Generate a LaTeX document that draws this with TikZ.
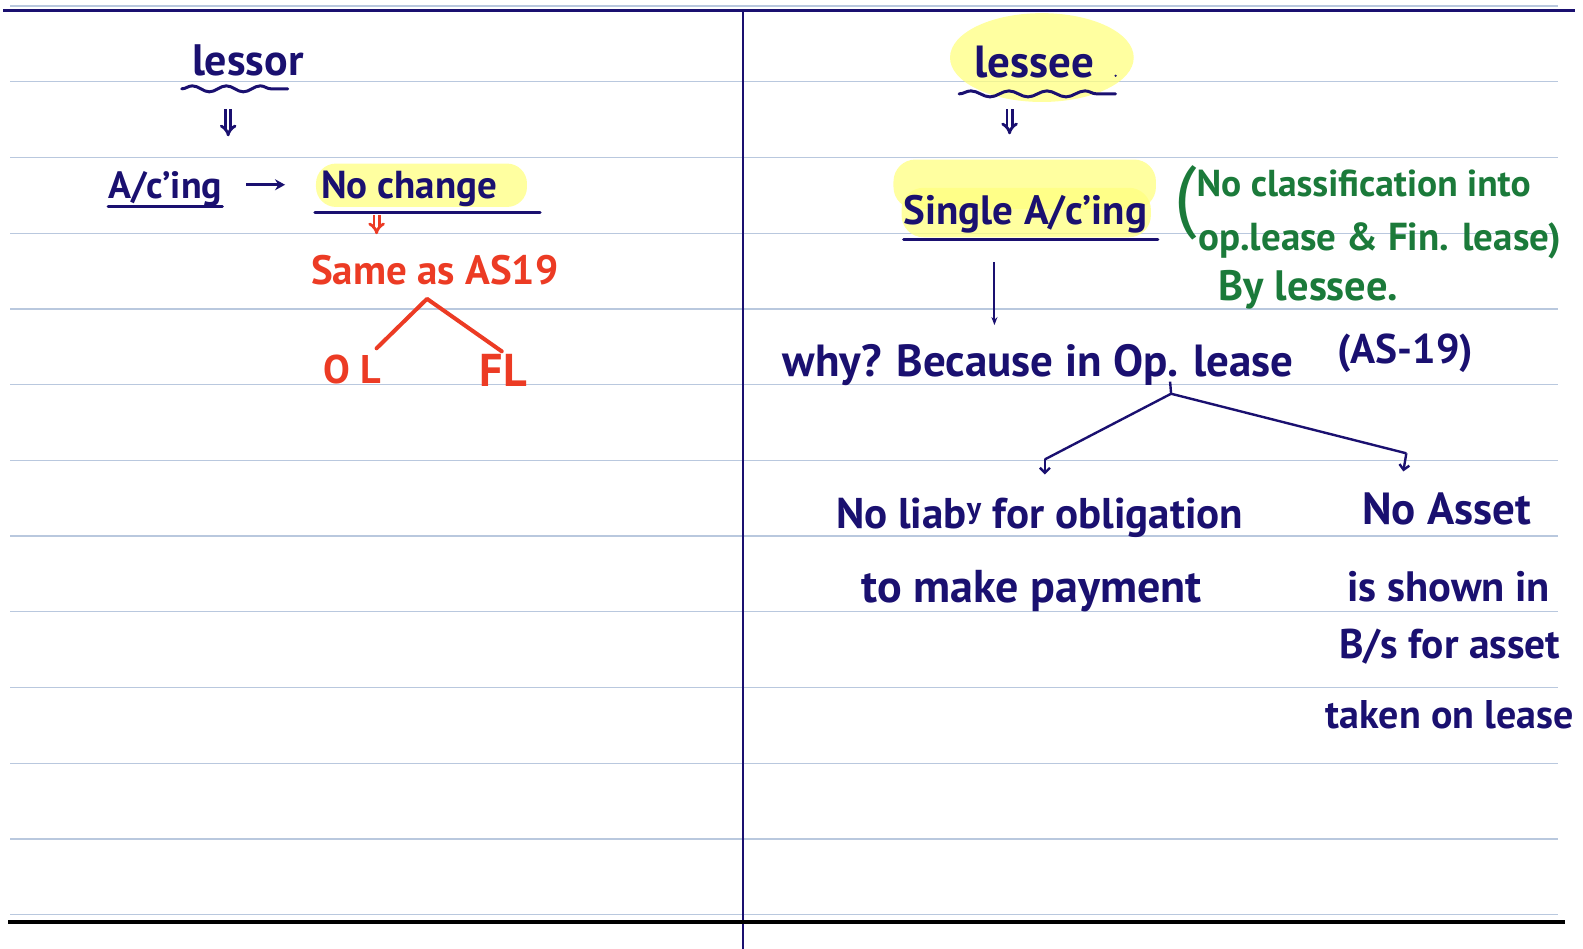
\documentclass[tikz,border=0pt]{standalone}
\usepackage{fontspec}
\setmainfont{PT Sans}
\usepackage{xcolor}
\usetikzlibrary{arrows.meta, positioning, calc, decorations.pathmorphing}
\definecolor{NoteInk}{HTML}{1A1070}
\definecolor{NoteRed}{HTML}{EC3B24}
\definecolor{NoteGreen}{HTML}{1B7A3A}
\definecolor{NoteHighlight}{HTML}{FFFF80}
\definecolor{NoteRule}{HTML}{B9C8DE}
\definecolor{NoteBlack}{HTML}{000000}
\newcommand{\handsize}[1]{\bfseries\fontsize{#1}{#1}\selectfont}
\tikzset{
    hand/.style={
        text=#1,
        font=\handsize{40},
        inner sep=0pt,
        anchor=base west
    },
    hand/.default=NoteInk,
    redhand/.style={
        hand=NoteRed,
        font=\handsize{41}
    },
    greenhand/.style={
        hand=NoteGreen,
        font=\handsize{37}
    },
    underline/.style={
        draw=NoteInk,
        line width=3pt,
        line cap=round
    },
    wavyline/.style={
        draw=NoteInk,
        line width=3pt,
        line cap=round,
        decorate,
        decoration={snake, amplitude=3pt, segment length=34pt}
    },
    dblarrow/.style={
        draw=#1,
        double=white,
        double distance=2.4pt,
        line width=2.8pt,
        -{Implies}
    },
    dblarrow/.default=NoteInk,
    arrow/.style={
        draw=NoteInk,
        line width=3pt,
        -{Stealth[length=10pt, width=11pt]}
    },
    thinarrow/.style={
        draw=NoteInk,
        line width=2pt,
        -{Stealth[length=8pt]}
    },
    treeline/.style={
        draw=NoteInk,
        line width=2.4pt
    },
    treearrow/.style={
        draw=NoteInk,
        line width=2.4pt,
        -{Straight Barb[length=5pt]}
    },
    rule/.style={
        draw=NoteRule,
        line width=1.2pt
    },
    marker/.style={
        fill=NoteHighlight,
        fill opacity=0.75,
        draw=none
    }
}

\begin{document}
\begin{tikzpicture}[x=1.0096pt, y=-1.0096pt]
    \useasboundingbox (0,0) rectangle (1568,940);

    % Paper
    \draw[rule] (10,6) -- (1543,6);
    \foreach \k in {0,...,11}
        \draw[rule] (10,81+75*\k) -- (1543,81+75*\k);
    \draw[NoteInk, line width=2.6pt] (3,10.5) -- (1560,10.5);
    \draw[NoteInk, line width=2.4pt] (736,10.5) -- (736,940);
    \draw[NoteBlack, line width=4pt] (8,913) -- (1550,913);

    % Highlights
    \fill[marker, rounded corners=20pt] (313,162) rectangle (522,205);
    \fill[marker] (1032,57) ellipse [x radius=91, y radius=44];
    \fill[marker, rounded corners=22pt] (885,158) rectangle (1145,207);
    \fill[marker, rounded corners=22pt] (893,186) rectangle (1140,235);

    % Lessor side
    \node[hand, font=\handsize{44}] (lessor) at (190,75) {lessor};
    \node[hand, font=\handsize{38}] (acing) at (107,197) {A/c'ing};
    \node[hand, font=\handsize{39}] (nochange) at (318,197) {No change};
    \node[redhand] (same) at (308,282) {Same as AS19};
    \node[redhand, font=\handsize{40}] (ol) at (320,380) {O L};
    \node[redhand, font=\handsize{46}] (fl) at (475,383) {FL};

    \draw[wavyline] ($(lessor.base west)+(-10,13)$) -- ($(lessor.base west)+(95,13)$);
    \draw[dblarrow] ($(lessor.base west)+(36,33)$) -- ($(acing.base west)+(119,-62)$);
    \draw[underline] ($(acing.base west)+(0,8)$) -- ($(acing.base east)+(0,8)$);
    \draw[arrow, shorten <=24pt, shorten >=36pt] ($(acing.base east)+(0,-14)$) -- ($(nochange.base west)+(0,-14)$);
    \draw[underline] ($(nochange.base west)+(-6,13)$) -- ($(nochange.base west)+(217,13)$);
    \draw[dblarrow=NoteRed] ($(nochange.base west)+(55,16)$) -- ($(same.base west)+(65,-50)$);
    \coordinate (redapex) at ($(same.base west)+(115,14)$);
    \draw[NoteRed, line width=4pt, line cap=round, line join=round]
        ($(ol.base west)+(53,-35)$) -- (redapex) -- ($(fl.base west)+(22,-35)$);

    % Lessee side
    \node[hand, font=\handsize{45}] (lessee) at (965,77) {lessee};
    \fill[NoteInk] ($(lessee.base west)+(140,-2)$) circle (1.2);
    \node[hand, font=\handsize{41}] (single) at (895,222) {Single A/c'ing};
    \node[greenhand, font=\mdseries\fontsize{80}{80}\selectfont] (paren) at (1163,220) {(};
    \node[greenhand, font=\handsize{37.5}] (green1) at (1185,195) {No classification into};
    \node[greenhand, font=\handsize{39}] (green2) at (1187,248) {op.lease \& Fin. lease)};
    \node[greenhand, font=\handsize{42.5}] (green3) at (1207,298) {By lessee.};
    \node[hand, font=\handsize{45}] (why) at (775,373) {why? Because in Op. lease};
    \node[hand, font=\handsize{41.5}] (as19) at (1325,360) {(AS-19)};
    \node[hand, font=\handsize{43}] (liab) at (828,523) {No liab\textsuperscript{y} for obligation};
    \node[hand, font=\handsize{46}] (pay) at (853,597) {to make payment};
    \node[hand, anchor=base, font=\handsize{45}] (asset) at (1433,520) {No Asset};
    \node[hand, anchor=base, font=\handsize{42.5}] (shown) at (1435,596) {is shown in};
    \node[hand, anchor=base, font=\handsize{41.5}] (bs) at (1436,652) {B/s for asset};
    \node[hand, anchor=base, font=\handsize{40}] (taken) at (1436,722) {taken on lease};

    \draw[wavyline, decoration={snake, amplitude=3pt, segment length=38pt}]
        ($(lessee.base west)+(-15,16)$) -- ($(lessee.base west)+(140,16)$);
    \draw[dblarrow] ($(lessee.base west)+(35,31)$) -- ($(single.base west)+(105,-89)$);
    \draw[underline] ($(single.base west)+(0,15)$) -- ($(single.base west)+(252,15)$);
    \draw[thinarrow] ($(single.base west)+(90,38)$) -- ($(why.base west)+(210,-51)$);

    % Tree under Op. lease
    \coordinate (fork) at ($(why.base west)+(385,17)$);
    \draw[treeline] ($(why.base west)+(384,5)$) -- (fork);
    \draw[treeline] (fork) -- ($(liab.base west)+(207,-68)$);
    \draw[treearrow] ($(liab.base west)+(207,-68)$) -- ($(liab.base west)+(207,-53)$);
    \draw[treeline] (fork) -- ($(asset.base)+(-40,-71)$);
    \draw[treearrow] ($(asset.base)+(-40,-71)$) -- ($(asset.base)+(-43,-53)$);
\end{tikzpicture}
\end{document}
